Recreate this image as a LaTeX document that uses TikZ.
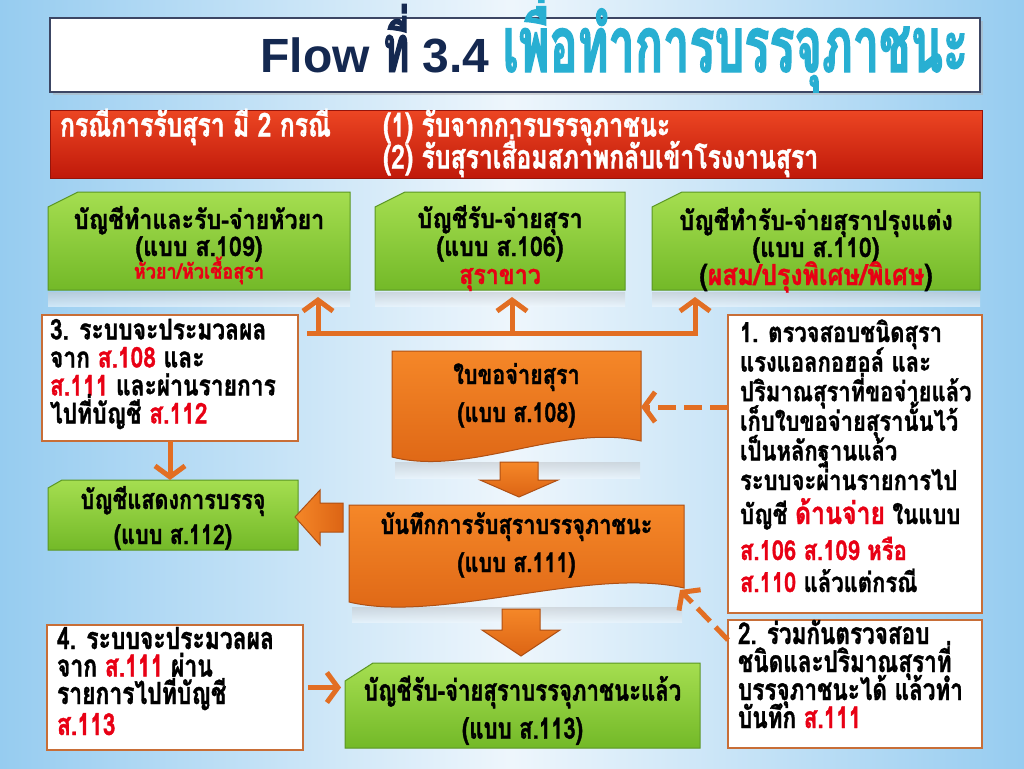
\documentclass[tikz,border=0pt]{standalone}
\usepackage{fontspec}
\usetikzlibrary{arrows.meta}
\newfontfamily\ttl{Liberation Sans}
\newfontfamily\thW[Script=Thai,FakeStretch=0.8,BoldFeatures={FakeBold=1.2}]{Loma}
\newfontfamily\thC[Script=Thai,FakeStretch=0.75,BoldFeatures={FakeBold=1.2}]{Loma}
\newfontfamily\thN[Script=Thai,FakeStretch=0.86,BoldFeatures={FakeBold=1.2}]{Loma}
\newfontfamily\thT[Script=Thai,FakeStretch=0.6,BoldFeatures={FakeBold=1.5}]{Loma}
\definecolor{bgB}{RGB}{150,204,240}
\definecolor{bgW}{RGB}{238,246,252}
\definecolor{titleB}{RGB}{60,70,100}
\definecolor{titleN}{RGB}{20,40,80}
\definecolor{titleC}{RGB}{40,175,210}
\definecolor{banT}{RGB}{236,70,35}
\definecolor{banB}{RGB}{192,25,10}
\definecolor{banD}{RGB}{150,20,10}
\definecolor{grnT}{RGB}{165,222,80}
\definecolor{grnB}{RGB}{115,185,40}
\definecolor{grnD}{RGB}{90,150,35}
\definecolor{orT}{RGB}{245,135,40}
\definecolor{orB}{RGB}{220,100,20}
\definecolor{orD}{RGB}{175,80,20}
\definecolor{orA}{RGB}{226,110,35}
\definecolor{boxL}{RGB}{200,110,55}
\definecolor{redT}{RGB}{232,0,20}
\definecolor{refl}{RGB}{195,200,205}
\newcommand\gshape[6]{\shade[top color=grnT, bottom color=grnB, draw=grnD, line width=1pt] (#1,#2+#6) -- (#1+#5,#2) -- (#3,#2) -- (#3,#4) -- (#1,#4) -- cycle;}
\newcommand\reflect[4]{\shade[top color=refl, bottom color=bgW, opacity=0.6] (#1,#2) rectangle (#3,#4);}
\newcommand\rd[1]{\textcolor{redT}{#1}}
\newcommand\tstrut{\rule{0pt}{40pt}}
\newcommand\fsz[3]{#1\bfseries\fontsize{#2}{#3}\selectfont\lineskiplimit=-100pt\lineskip=0pt}
\tikzset{
  every node/.style={inner sep=0pt, outer sep=0pt},
  wbox/.style={draw=boxL, line width=1.5pt, fill=white},
  orline/.style={draw=orA, line width=5pt},
  orarrow/.style={draw=orA, line width=5pt, -{Straight Barb[length=11pt,width=30pt]}},
  dasharrow/.style={orarrow, dash pattern=on 18pt off 8pt},
  ltext/.style={anchor=north west, align=left},
  ctext/.style={anchor=north, align=center},
  ortop/.style={top color=orT, bottom color=orB, draw=orD, line width=1pt},
}
\begin{document}
\begin{tikzpicture}[x=1pt,y=-1pt]
\useasboundingbox (0,0) rectangle (1024,768);
\shade[left color=bgB, right color=bgB, middle color=bgW] (0,0) rectangle (1024,768);

% title
\fill[black!30, opacity=0.5] (53,21) rectangle (983,95);
\node[draw=titleB, line width=1.5pt, fill=white, minimum width=930pt, minimum height=74pt] (titlebox) at (515,55) {};
\node[anchor=base east] (titletext) at (968,72) {\textcolor{titleN}{\ttl\bfseries\fontsize{48}{50}\selectfont Flow {\thT\fontsize{66}{66}\selectfont ที่} 3.4\ }\textcolor{titleC}{\thT\bfseries\fontsize{78}{78}\selectfont เพื่อทำการบรรจุภาชนะ}};

% banner
\node[top color=banT, bottom color=banB, draw=banD, line width=1pt, minimum width=932pt, minimum height=68pt] (banner) at (516,144) {};
\node[anchor=base west, text=white, font=\fsz{\thC}{33}{32}] (bn1) at (60,136.5) {กรณีการรับสุรา มี 2 กรณี};
\node[anchor=base west, text=white, font=\fsz{\thC}{33}{32}] (bn2) at (383,136.5) {(1) รับจากการบรรจุภาชนะ};
\node[anchor=base west, text=white, font=\fsz{\thC}{33}{32}] (bn3) at (383,168.5) {(2) รับสุราเสื่อมสภาพกลับเข้าโรงงานสุรา};

% reflections
\reflect{48}{292}{350}{306}
\reflect{375}{292}{625}{306}
\reflect{652}{292}{980}{306}
\reflect{395}{462}{640}{478}
\reflect{352}{607}{682}{622}

% green top boxes
\gshape{48}{192}{350}{290}{30}{15}
\node[minimum width=302pt, minimum height=98pt] (gA) at (199,241) {};
\node[ctext, font=\fsz{\thN}{27}{27}] (gAt) at (199,189) {\tstrut บัญชีทำและรับ-จ่ายหัวยา\\(แบบ ส.109)\\[-4.3pt]{\color{redT}\fontsize{21}{20}\selectfont หัวยา/หัวเชื้อสุรา}};
\gshape{375}{192}{625}{290}{30}{15}
\node[minimum width=250pt, minimum height=98pt] (gB) at (500,241) {};
\node[ctext, font=\fsz{\thN}{27}{28}] (gBt) at (500,188) {\tstrut บัญชีรับ-จ่ายสุรา\\(แบบ ส.106)\\{\color{redT}สุราขาว}};
\gshape{652}{192}{980}{290}{30}{15}
\node[minimum width=328pt, minimum height=98pt] (gC) at (816,241) {};
\node[ctext, font=\fsz{\thN}{27}{27}] (gCt) at (816,190) {\tstrut บัญชีทำรับ-จ่ายสุราปรุงแต่ง\\(แบบ ส.110)\\[1pt]{\fontsize{29}{28}\selectfont(\rd{ผสม/ปรุงพิเศษ/พิเศษ})}};

% bracket with arrows
\coordinate (barL) at (307,333);
\coordinate (barR) at (698,333);
\coordinate (uA) at (318,333);
\coordinate (uB) at (512,333);
\coordinate (uC) at (695,333);
\draw[orline] (barL) -- (barR);
\draw[orarrow] (uA) -- ([yshift=-7pt]gA.south -| uA);
\draw[orarrow] (uB) -- ([yshift=-7pt]gB.south -| uB);
\draw[orarrow] (uC) -- ([yshift=-7pt]gC.south -| uC);

% box 3
\node[wbox, minimum width=256pt, minimum height=126pt] (b3) at (170,378) {};
\node[ltext, font=\fsz{\thW}{28.5}{28}] (b3t) at (50,299.4) {\tstrut 3. ระบบจะประมวลผล\\จาก \rd{ส.108} และ\\\rd{ส.111} และผ่านรายการ\\ไปที่บัญชี \rd{ส.112}};

% green 112
\gshape{48}{480}{298}{550}{14}{8}
\node[minimum width=250pt, minimum height=70pt] (g112) at (173,515) {};
\node[ctext, font=\fsz{\thW}{27}{35}] (g112t) at (173,469) {\tstrut บัญชีแสดงการบรรจุ\\(แบบ ส.112)};
\draw[orarrow] (b3.south) -- (b3.south |- g112.north);

% doc 1
\shade[ortop] (392,351) -- (641,351) -- (641,441) .. controls (560,423) and (470,477) .. (392,457) -- cycle;
\node[minimum width=249pt, minimum height=112pt] (doc1) at (516.5,407) {};
\node[ctext, font=\fsz{\thW}{27}{38}] (doc1t) at (516.5,344) {\tstrut ใบขอจ่ายสุรา\\(แบบ ส.108)};

% block arrow down 1
\shade[ortop] (500,462) -- (538,462) -- (538,480) -- (558,480) -- (519,497) -- (480,480) -- (500,480) -- cycle;

% doc 2
\shade[ortop] (349,505) -- (684,505) -- (684,588) .. controls (590,566) and (440,624) .. (349,602) -- cycle;
\node[minimum width=335pt, minimum height=83pt] (doc2) at (516.5,546.5) {};
\node[ctext, font=\fsz{\thW}{27}{38}] (doc2t) at (516.5,494) {\tstrut บันทึกการรับสุราบรรจุภาชนะ\\(แบบ ส.111)};

% block arrow left
\shade[left color=orT, right color=orB, draw=orD, line width=1pt] (295,517) -- (320,490) -- (320,503) -- (343,503) -- (343,532) -- (320,532) -- (320,545) -- cycle;

% block arrow down 2
\shade[ortop] (502,609) -- (540,609) -- (540,630) -- (560,630) -- (521,656) -- (482,630) -- (502,630) -- cycle;

% green 113
\gshape{345}{663}{700}{748}{28}{18}
\node[minimum width=355pt, minimum height=85pt] (g113) at (522.5,705.5) {};
\node[ctext, font=\fsz{\thC}{29.5}{38}] (g113t) at (522.5,660.7) {\tstrut บัญชีรับ-จ่ายสุราบรรจุภาชนะแล้ว\\(แบบ ส.113)};

% box 1
\node[wbox, minimum width=254pt, minimum height=298pt] (b1) at (855,464) {};
\node[ltext, font=\fsz{\thW}{27.5}{29.6}] (b1t) at (740,302) {\tstrut 1. ตรวจสอบชนิดสุรา\\แรงแอลกอฮอล์ และ\\ปริมาณสุราที่ขอจ่ายแล้ว\\เก็บใบขอจ่ายสุรานั้นไว้\\เป็นหลักฐานแล้ว\\ระบบจะผ่านรายการไป\\[4.4pt]บัญชี \rd{\fontsize{31}{30}\selectfont ด้านจ่าย} ในแบบ\\[6.4pt]\rd{ส.106 ส.109 หรือ}\\[2.4pt]\rd{ส.110} แล้วแต่กรณี};

% box 2
\node[wbox, minimum width=254pt, minimum height=128pt] (b2) at (855,684) {};
\node[ltext, font=\fsz{\thC}{30}{28}] (b2t) at (738,604) {\tstrut 2. ร่วมกันตรวจสอบ\\ชนิดและปริมาณสุราที่\\บรรจุภาชนะได้ แล้วทำ\\บันทึก \rd{ส.111}};

% box 4
\node[wbox, minimum width=256pt, minimum height=125pt] (b4) at (175,687.5) {};
\node[ltext, font=\fsz{\thC}{30.5}{27.5}] (b4t) at (57,609) {\tstrut 4. ระบบจะประมวลผล\\จาก \rd{ส.111} ผ่าน\\รายการไปที่บัญชี\\[3.5pt]\rd{ส.113}};

% connectors
\draw[dasharrow] (b1.west |- doc1.east) -- (doc1.east);
\draw[dasharrow] ([yshift=-20pt]b2.north west) -- ([xshift=-4pt,yshift=-2pt]doc2.south east);
\draw[orarrow] ([xshift=5pt]b4.east) -- ([xshift=-4pt]g113.west |- b4.east);
\end{tikzpicture}
\end{document}
